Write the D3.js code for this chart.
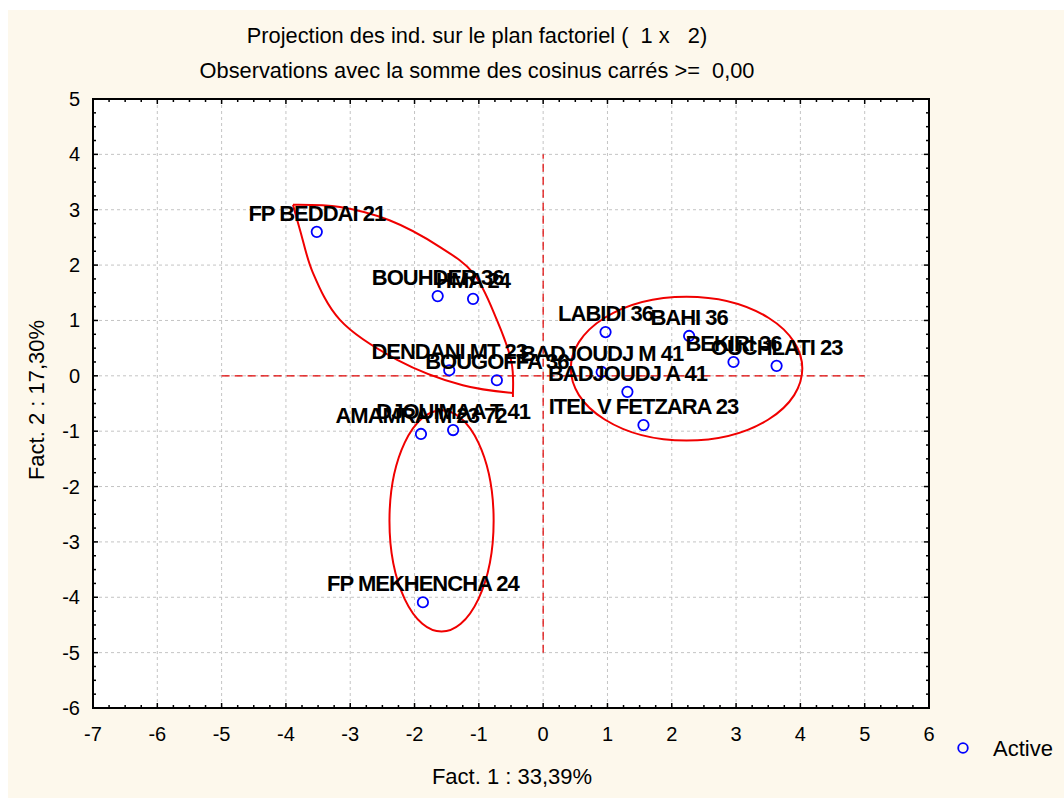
<!DOCTYPE html>
<html>
<head>
<meta charset="utf-8">
<script src="https://cdn.jsdelivr.net/npm/d3@7"></script>
<style>
  html, body { margin: 0; padding: 0; background: #ffffff; }
  svg { display: block; }
  text { font-family: "Liberation Sans", Arial, sans-serif; white-space: pre; }
</style>
</head>
<body>
<svg id="chart" width="1064" height="798"></svg>
<script>
// Individuals projected on the factorial plane (factor 1 x factor 2)
const names = [
  "FP BEDDAI 21", "BOUHDER 36", "HMA 24", "DENDANI MT 23", "BOUGOFFA 36",
  "AMAMRA M 23 72", "DJOUIMAA T 41", "FP MEKHENCHA 24", "LABIDI 36", "BAHI 36",
  "BEKIRI 36", "OUCHLATI 23", "BADJOUDJ M 41", "BADJOUDJ A 41", "ITEL V FETZARA 23"
];
const fact1 = [-3.52, -1.64, -1.09, -1.46, -0.72, -1.90, -1.40, -1.87, 0.97, 2.27, 2.96, 3.63, 0.91, 1.31, 1.56];
const fact2 = [ 2.60,  1.44,  1.39,  0.10, -0.08, -1.05, -0.98, -4.09, 0.79, 0.72, 0.25, 0.18, 0.07, -0.29, -0.89];

const xTicks = [-7, -6, -5, -4, -3, -2, -1, 0, 1, 2, 3, 4, 5, 6];
const yTicks = [-6, -5, -4, -3, -2, -1, 0, 1, 2, 3, 4, 5];

const titleLines = [
  "Projection des ind. sur le plan factoriel (  1 x   2)",
  "Observations avec la somme des cosinus carrés >=  0,00"
];
const xTitle = "Fact. 1 : 33,39%";
const yTitle = "Fact. 2 : 17,30%";
const legendLabel = "Active";

// Group outlines drawn by hand, in factor units
const groupLensUpper = [[-3.89, 3.09], [-3.16, 3.05], [-2.39, 2.81], [-1.61, 2.33], [-1.09, 1.86], [-0.72, 1.01], [-0.49, 0.23], [-0.47, -0.31]];
const groupLensLower = [[-3.89, 3.09], [-3.78, 2.63], [-3.58, 1.86], [-3.16, 1.01], [-2.27, 0.29], [-1.25, -0.17], [-0.47, -0.31]];
const groupEllipses = [
  { cx: -1.58, cy: -2.62, rx: 0.81, ry: 2.0 },
  { cx: 2.23, cy: 0.13, rx: 1.80, ry: 1.30 }
];
// Reference cross through the origin
const crossX = [-5, 5];
const crossY = [-5, 4];

const svg = d3.select("#chart");
const W = 1064, H = 798;
const plot = { left: 93, right: 929, top: 99, bottom: 708 };

// page background
svg.append("rect").attr("x", 0).attr("y", 0).attr("width", W).attr("height", H).attr("fill", "#ffffff");
svg.append("rect").attr("x", 8).attr("y", 10).attr("width", W - 8).attr("height", H - 10).attr("fill", "#fdf8ec");

const x = d3.scaleLinear().domain([-7, 6]).range([plot.left, plot.right]);
const y = d3.scaleLinear().domain([-6, 5]).range([plot.bottom, plot.top]);

// plot area
svg.append("rect")
  .attr("x", plot.left).attr("y", plot.top)
  .attr("width", plot.right - plot.left).attr("height", plot.bottom - plot.top)
  .attr("fill", "#ffffff");

// grid
const grid = svg.append("g").attr("stroke", "#c4c4c4").attr("stroke-width", 1).attr("stroke-dasharray", "3,3");
xTicks.slice(1, -1).forEach(v => {
  grid.append("line").attr("x1", x(v)).attr("x2", x(v)).attr("y1", plot.top).attr("y2", plot.bottom);
});
yTicks.slice(1, -1).forEach(v => {
  grid.append("line").attr("x1", plot.left).attr("x2", plot.right).attr("y1", y(v)).attr("y2", y(v));
});

// red dashed cross
svg.append("line")
  .attr("x1", x(crossX[0])).attr("x2", x(crossX[1])).attr("y1", y(0)).attr("y2", y(0))
  .attr("stroke", "#e00000").attr("stroke-width", 1.2).attr("stroke-dasharray", "8,5");
svg.append("line")
  .attr("x1", x(0)).attr("x2", x(0)).attr("y1", y(crossY[0])).attr("y2", y(crossY[1]))
  .attr("stroke", "#e00000").attr("stroke-width", 1.2).attr("stroke-dasharray", "8,5");

// group outlines
const outline = svg.append("g").attr("fill", "none").attr("stroke", "#f00000").attr("stroke-width", 2);
const lensLine = d3.line().x(d => x(d[0])).y(d => y(d[1])).curve(d3.curveCatmullRom.alpha(0.5));
outline.append("path").attr("d", lensLine(groupLensUpper));
outline.append("path").attr("d", lensLine(groupLensLower));
const lensEnd = groupLensUpper[groupLensUpper.length - 1];
outline.append("line")
  .attr("x1", x(lensEnd[0])).attr("x2", x(lensEnd[0]))
  .attr("y1", y(lensEnd[1])).attr("y2", y(lensEnd[1]) + 4);
groupEllipses.forEach(e => {
  outline.append("ellipse")
    .attr("cx", x(e.cx)).attr("cy", y(e.cy))
    .attr("rx", x(e.cx + e.rx) - x(e.cx)).attr("ry", y(e.cy) - y(e.cy + e.ry));
});

// frame and inward ticks
const frame = svg.append("g").attr("stroke", "#000000");
frame.append("rect")
  .attr("x", plot.left).attr("y", plot.top)
  .attr("width", plot.right - plot.left).attr("height", plot.bottom - plot.top)
  .attr("fill", "none").attr("stroke-width", 2);
const xMinor = d3.range(-7, 6.001, 0.25);
const yMinor = d3.range(-6, 5.001, 0.25);
xMinor.forEach(v => {
  const major = Math.abs(v - Math.round(v)) < 1e-6;
  const len = major ? 5 : 3;
  frame.append("line").attr("x1", x(v)).attr("x2", x(v)).attr("y1", plot.bottom).attr("y2", plot.bottom - len).attr("stroke-width", 1.5);
  frame.append("line").attr("x1", x(v)).attr("x2", x(v)).attr("y1", plot.top).attr("y2", plot.top + len).attr("stroke-width", 1.5);
});
yMinor.forEach(v => {
  const major = Math.abs(v - Math.round(v)) < 1e-6;
  const len = major ? 5 : 3;
  frame.append("line").attr("y1", y(v)).attr("y2", y(v)).attr("x1", plot.left).attr("x2", plot.left + len).attr("stroke-width", 1.5);
  frame.append("line").attr("y1", y(v)).attr("y2", y(v)).attr("x1", plot.right).attr("x2", plot.right - len).attr("stroke-width", 1.5);
});

// tick labels
const tickFont = 20;
svg.append("g").selectAll("text").data(xTicks).join("text")
  .attr("x", d => x(d)).attr("y", 741)
  .attr("text-anchor", "middle").attr("font-size", tickFont).attr("fill", "#000")
  .text(d => d);
svg.append("g").selectAll("text").data(yTicks).join("text")
  .attr("x", 80).attr("y", d => y(d) + 7)
  .attr("text-anchor", "end").attr("font-size", tickFont).attr("fill", "#000")
  .text(d => d);

// axis titles
svg.append("text").attr("x", 512).attr("y", 784).attr("text-anchor", "middle")
  .attr("font-size", 22).text(xTitle);
svg.append("text").attr("transform", "translate(44,400) rotate(-90)").attr("text-anchor", "middle")
  .attr("font-size", 22).text(yTitle);

// chart title
titleLines.forEach((t, i) => {
  svg.append("text").attr("x", 477).attr("y", 43 + i * 35).attr("text-anchor", "middle")
    .attr("font-size", 21.8).text(t);
});

// points
const pts = names.map((n, i) => ({ name: n, f1: fact1[i], f2: fact2[i] }));
svg.append("g").selectAll("circle").data(pts).join("circle")
  .attr("cx", d => x(d.f1)).attr("cy", d => y(d.f2)).attr("r", 5.2)
  .attr("fill", "none").attr("stroke", "#0000ff").attr("stroke-width", 1.8);

// point labels
svg.append("g").selectAll("text").data(pts).join("text")
  .attr("x", d => x(d.f1)).attr("y", d => y(d.f2) - 11)
  .attr("text-anchor", "middle").attr("font-size", 22).attr("font-weight", "bold")
  .attr("letter-spacing", -1)
  .attr("fill", "#000").text(d => d.name);

// legend
svg.append("circle").attr("cx", 963).attr("cy", 748).attr("r", 4.8)
  .attr("fill", "none").attr("stroke", "#0000ff").attr("stroke-width", 1.8);
svg.append("text").attr("x", 993).attr("y", 756).attr("font-size", 22).text(legendLabel);
</script>
</body>
</html>
